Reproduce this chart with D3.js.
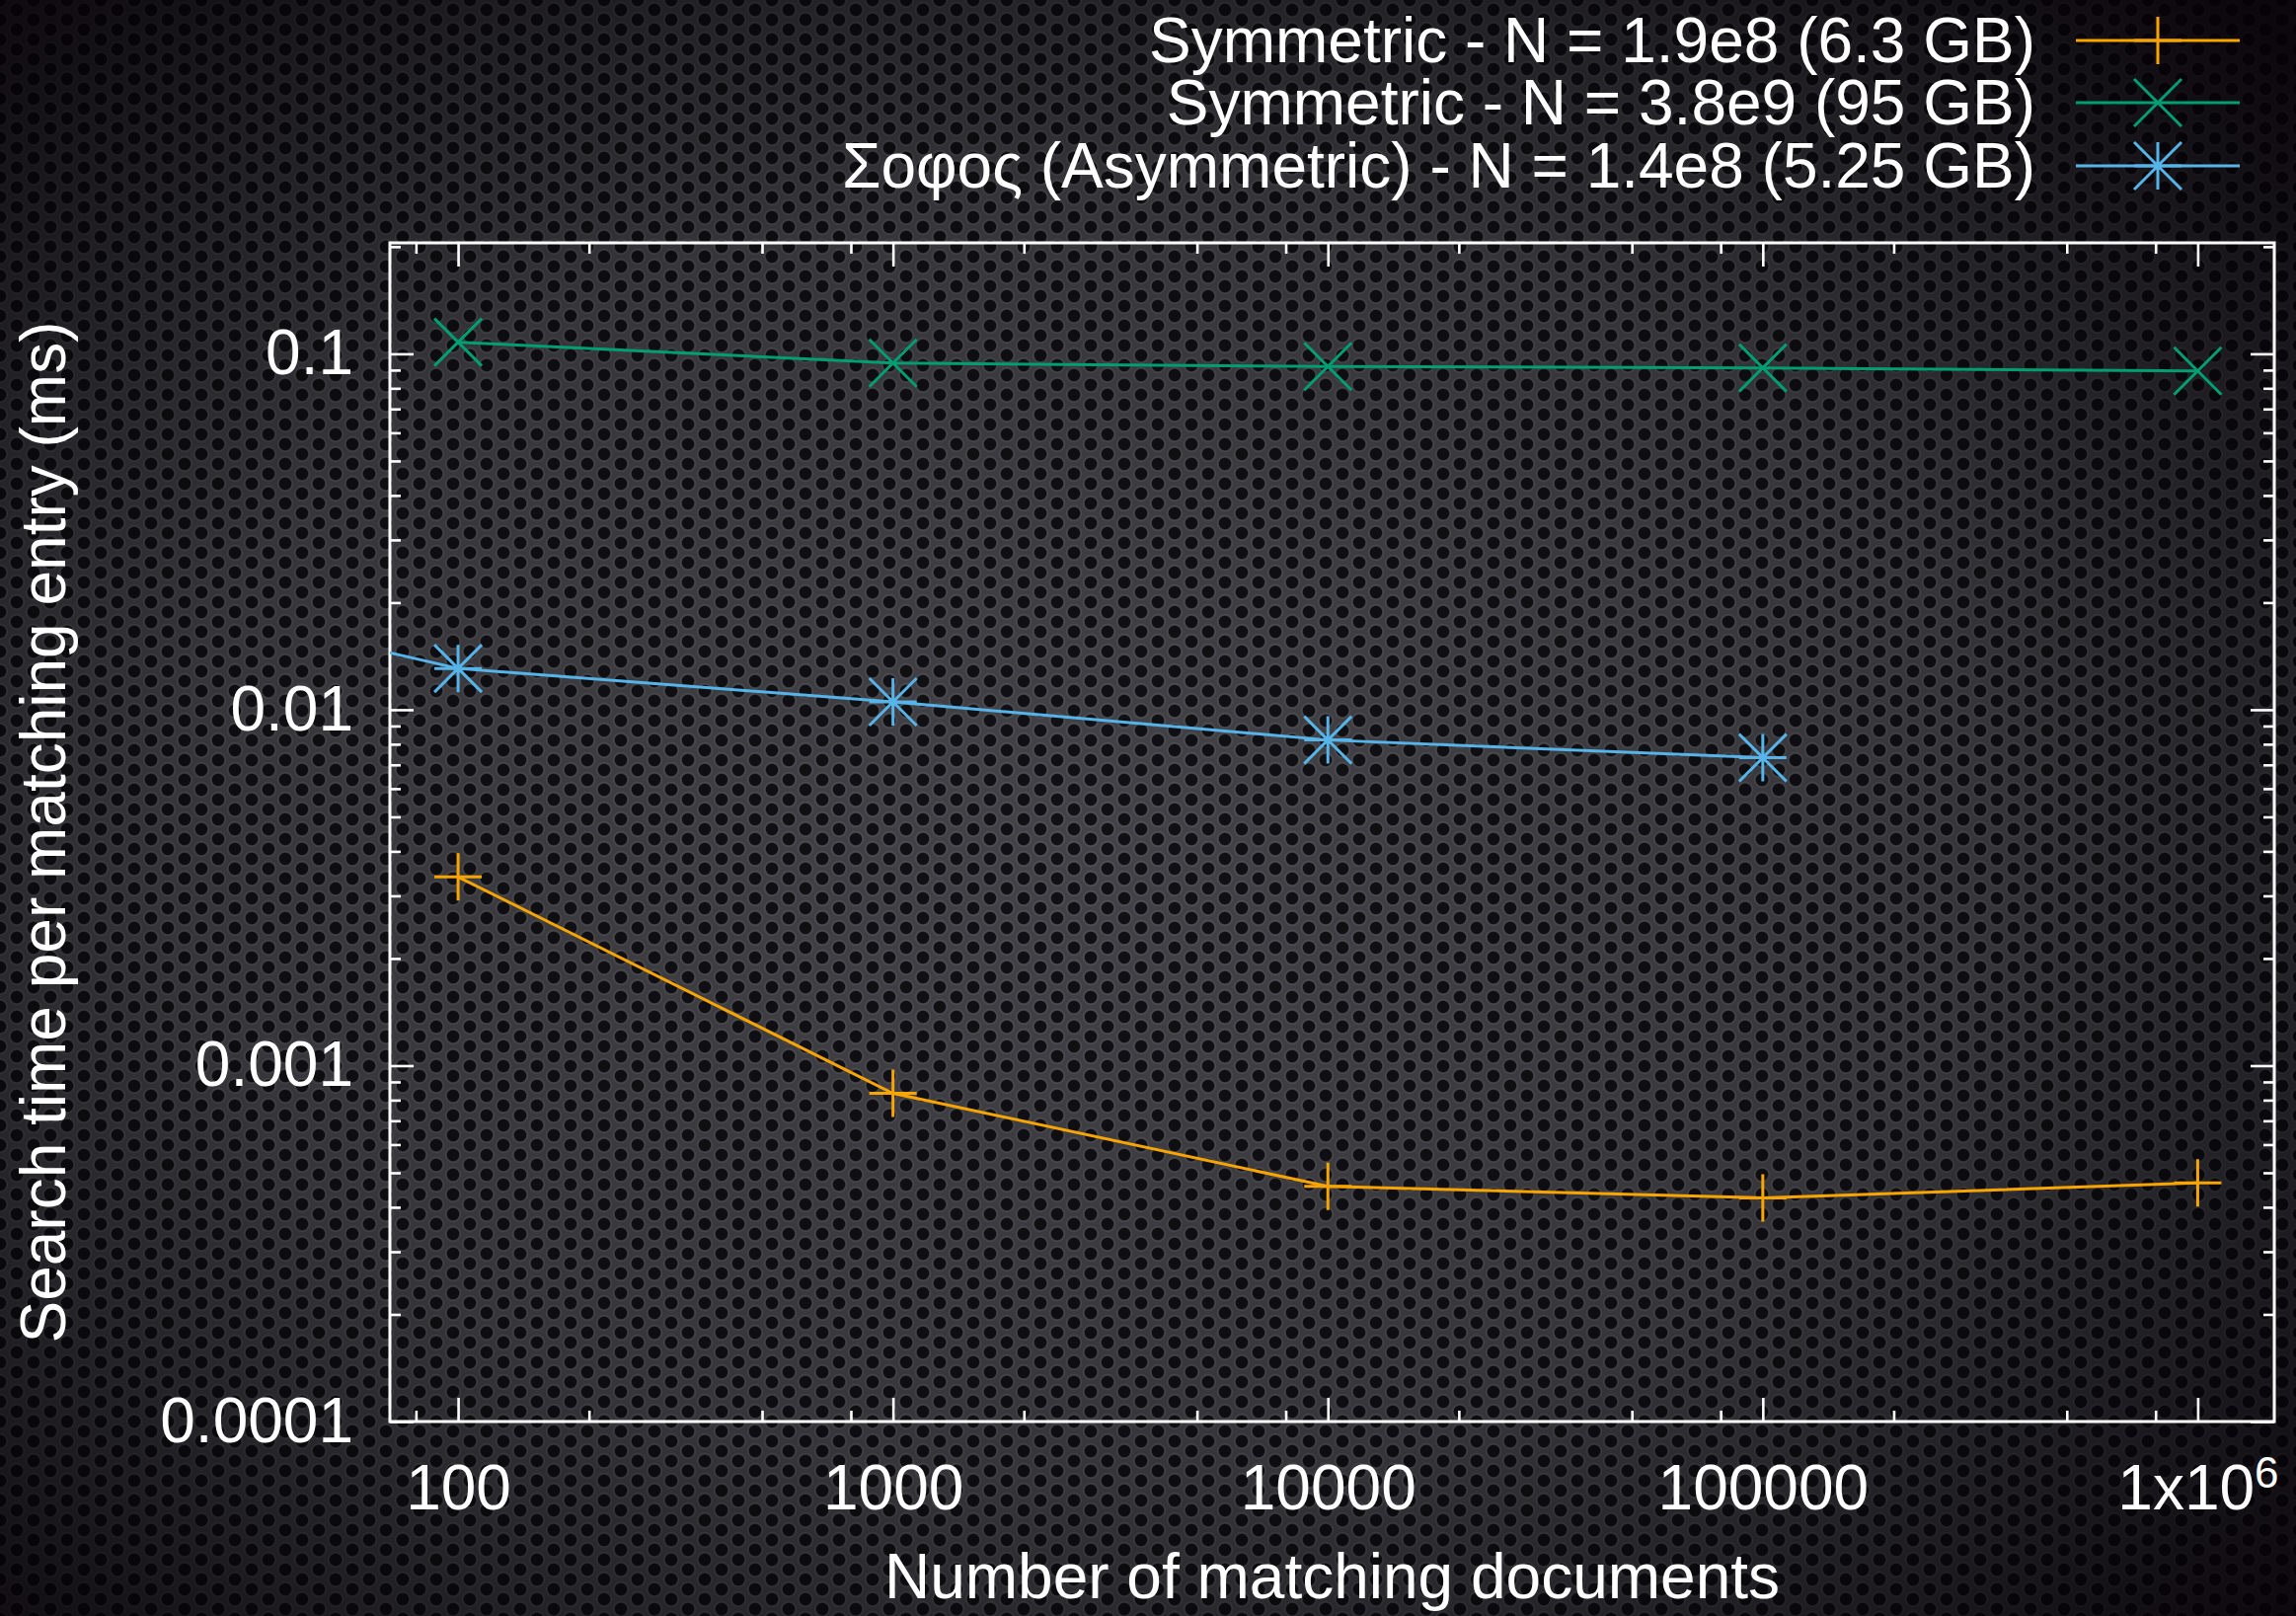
<!DOCTYPE html>
<html>
<head>
<meta charset="utf-8">
<script src="https://cdn.jsdelivr.net/npm/d3@7"></script>
<style>
  body { margin: 0; background: #111; }
  svg { display: block; }
  text { font-family: "Liberation Sans", Arial, Helvetica, sans-serif; fill: #fff; }
</style>
</head>
<body>
<svg id="chart"></svg>
<script>
// values
const xValues = [100, 1000, 10000, 100000, 1000000];
const symSmallTimes = [0.00339, 0.000836, 0.000458, 0.000425, 0.000468];
const symLargeTimes = [0.1078, 0.0942, 0.0921, 0.0913, 0.0895];
const sofosX = [10, 100, 1000, 10000, 100000];
const sofosTimes = [0.025, 0.01306, 0.01052, 0.00822, 0.00733];

const seriesNames = [
  "Symmetric - N = 1.9e8 (6.3 GB)",
  "Symmetric - N = 3.8e9 (95 GB)",
  "Σοφος (Asymmetric) - N = 1.4e8 (5.25 GB)"
];
const seriesColors = ["#f8a500", "#009e73", "#56b4e9"];
const seriesMarks = ["plus", "cross", "star"];

const xTicks = [100, 1000, 10000, 100000, 1000000];
const xTickLabels = ["100", "1000", "10000", "100000", "1x10^6"];
const yTicks = [0.0001, 0.001, 0.01, 0.1];
const yTickLabels = ["0.0001", "0.001", "0.01", "0.1"];

const xTitle = "Number of matching documents";
const yTitle = "Search time per matching entry (ms)";

const W = 2326, H = 1637;
const margin = {top: 246, right: 22, bottom: 197, left: 395};
const fontSize = 64;

const svg = d3.select("#chart").attr("width", W).attr("height", H);
const defs = svg.append("defs");

// perforated metal background
const pat = defs.append("pattern")
    .attr("id", "mesh").attr("patternUnits", "userSpaceOnUse")
    .attr("width", 34).attr("height", 20);
pat.append("rect").attr("width", 34).attr("height", 20).attr("fill", "#44444a");
[[0,0],[34,0],[0,20],[34,20],[17,10]].forEach(function(p) {
  pat.append("circle").attr("cx", p[0]).attr("cy", p[1]).attr("r", 7.6)
     .attr("fill", "none").attr("stroke", "#525258").attr("stroke-width", 1.2);
  pat.append("circle").attr("cx", p[0]).attr("cy", p[1]).attr("r", 6.2).attr("fill", "#111115");
});

const vig = defs.append("radialGradient").attr("id", "vig")
    .attr("cx", "47%").attr("cy", "52%").attr("r", "72%");
vig.append("stop").attr("offset", "0%").attr("stop-color", "#000").attr("stop-opacity", 0.02);
vig.append("stop").attr("offset", "55%").attr("stop-color", "#000").attr("stop-opacity", 0.22);
vig.append("stop").attr("offset", "100%").attr("stop-color", "#050006").attr("stop-opacity", 0.9);

svg.append("rect").attr("width", W).attr("height", H).attr("fill", "url(#mesh)");
svg.append("rect").attr("width", W).attr("height", H).attr("fill", "url(#vig)");

const x = d3.scaleLog().domain([69.7, 1.5e6]).range([margin.left, W - margin.right]);
const y = d3.scaleLog().domain([1e-4, 0.205]).range([H - margin.bottom, margin.top]);

defs.append("clipPath").attr("id", "plotclip").append("rect")
    .attr("x", margin.left).attr("y", margin.top)
    .attr("width", W - margin.left - margin.right)
    .attr("height", H - margin.top - margin.bottom);

// minor ticks: x shows 2,5,8 per decade, y shows 2..9
const xMinor = [], yMinor = [];
for (let e = 1; e <= 6; e++) {
  [2, 5, 8].forEach(function(m) {
    const v = m * Math.pow(10, e);
    if (v > x.domain()[0] && v < x.domain()[1]) xMinor.push(v);
  });
}
for (let e = -4; e <= -1; e++) {
  for (let m = 2; m <= 9; m++) {
    const v = m * Math.pow(10, e);
    if (v > y.domain()[0] && v < y.domain()[1]) yMinor.push(v);
  }
}

const bottomY = H - margin.bottom, rightX = W - margin.right;

function styleAxis(g) {
  g.select(".domain").remove();
  g.selectAll(".tick line").attr("stroke", "#fff").attr("stroke-width", 2.6);
  g.selectAll(".tick text").attr("fill", "#fff").style("font-size", fontSize + "px")
   .attr("font-family", null);
}

// bottom axis with labels
const gx = svg.append("g").attr("transform", "translate(0," + bottomY + ")")
    .call(d3.axisBottom(x).tickValues(xTicks).tickSize(-24).tickPadding(44)
      .tickFormat(function(d, i) { return xTickLabels[i]; }))
    .call(styleAxis);
gx.selectAll(".tick text").each(function(d, i) {
  const lab = xTickLabels[i];
  if (lab.indexOf("^") >= 0) {
    const parts = lab.split("^");
    const t = d3.select(this).text("");
    t.append("tspan").text(parts[0]);
    t.append("tspan").attr("dy", "-22").style("font-size", "44px").text(parts[1]);
  }
});
svg.append("g").attr("transform", "translate(0," + bottomY + ")")
    .call(d3.axisBottom(x).tickValues(xMinor).tickSize(-11).tickFormat(""))
    .call(styleAxis);
// top mirror
svg.append("g").attr("transform", "translate(0," + margin.top + ")")
    .call(d3.axisTop(x).tickValues(xTicks).tickSize(-24).tickFormat(""))
    .call(styleAxis);
svg.append("g").attr("transform", "translate(0," + margin.top + ")")
    .call(d3.axisTop(x).tickValues(xMinor).tickSize(-11).tickFormat(""))
    .call(styleAxis);

// left axis with labels
svg.append("g").attr("transform", "translate(" + margin.left + ",0)")
    .call(d3.axisLeft(y).tickValues(yTicks).tickSize(-24).tickPadding(37)
      .tickFormat(function(d, i) { return yTickLabels[i]; }))
    .call(styleAxis);
svg.append("g").attr("transform", "translate(" + margin.left + ",0)")
    .call(d3.axisLeft(y).tickValues(yMinor).tickSize(-11).tickFormat(""))
    .call(styleAxis);
// right mirror
svg.append("g").attr("transform", "translate(" + rightX + ",0)")
    .call(d3.axisRight(y).tickValues(yTicks).tickSize(-24).tickFormat(""))
    .call(styleAxis);
svg.append("g").attr("transform", "translate(" + rightX + ",0)")
    .call(d3.axisRight(y).tickValues(yMinor).tickSize(-11).tickFormat(""))
    .call(styleAxis);

// frame
svg.append("rect")
    .attr("x", margin.left).attr("y", margin.top)
    .attr("width", rightX - margin.left).attr("height", bottomY - margin.top)
    .attr("fill", "none").attr("stroke", "#fff").attr("stroke-width", 3);

// markers
const half = 24;
function markPath(kind, cx, cy) {
  const p = d3.path();
  if (kind === "plus" || kind === "star") {
    p.moveTo(cx - half, cy); p.lineTo(cx + half, cy);
    p.moveTo(cx, cy - half); p.lineTo(cx, cy + half);
  }
  if (kind === "cross" || kind === "star") {
    p.moveTo(cx - half, cy - half); p.lineTo(cx + half, cy + half);
    p.moveTo(cx - half, cy + half); p.lineTo(cx + half, cy - half);
  }
  return p.toString();
}

const series = [
  {xs: xValues, ys: symSmallTimes},
  {xs: xValues, ys: symLargeTimes},
  {xs: sofosX, ys: sofosTimes}
];

const line = d3.line().x(function(d) { return x(d[0]); }).y(function(d) { return y(d[1]); });
const plot = svg.append("g").attr("clip-path", "url(#plotclip)");

series.forEach(function(s, i) {
  const pts = s.xs.map(function(v, j) { return [v, s.ys[j]]; });
  plot.append("path").datum(pts)
      .attr("d", line).attr("fill", "none")
      .attr("stroke", seriesColors[i]).attr("stroke-width", 3);
  plot.selectAll(".m" + i).data(pts).enter().append("path")
      .attr("d", function(d) { return markPath(seriesMarks[i], x(d[0]), y(d[1])); })
      .attr("stroke", seriesColors[i]).attr("stroke-width", 3).attr("fill", "none");
});

// legend
const legRowY = [41, 104, 168];
const legend = svg.append("g");
seriesNames.forEach(function(name, i) {
  const cy = legRowY[i];
  legend.append("text").attr("x", 2062).attr("y", cy + 22)
      .attr("text-anchor", "end").style("font-size", fontSize + "px").text(name);
  legend.append("line").attr("x1", 2103).attr("x2", 2269).attr("y1", cy).attr("y2", cy)
      .attr("stroke", seriesColors[i]).attr("stroke-width", 3);
  legend.append("path").attr("d", markPath(seriesMarks[i], 2186, cy))
      .attr("stroke", seriesColors[i]).attr("stroke-width", 3).attr("fill", "none");
});

// axis titles
svg.append("text").attr("x", (margin.left + rightX) / 2).attr("y", 1619)
    .attr("text-anchor", "middle").style("font-size", fontSize + "px").text(xTitle);
svg.append("text")
    .attr("transform", "translate(66," + ((margin.top + bottomY) / 2) + ") rotate(-90)")
    .attr("text-anchor", "middle").style("font-size", fontSize + "px").text(yTitle);
</script>
</body>
</html>
